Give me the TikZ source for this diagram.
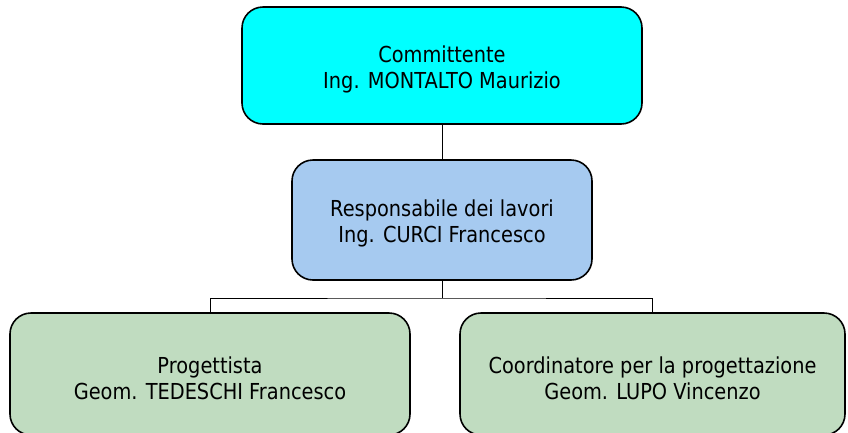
\documentclass[tikz,border=0pt]{standalone}
\usepackage{fontspec}
\setmainfont[FakeStretch=0.88]{DejaVu Sans}
\definecolor{topc}{HTML}{00FFFF}
\definecolor{midc}{HTML}{A6CAF0}
\definecolor{lowc}{HTML}{C0DCC0}
\begin{document}
\begin{tikzpicture}[x=1pt,y=-1pt,
  box/.style={draw=black, line width=1.6pt, rounded corners=21pt, inner sep=0pt},
  txt/.style={align=center, font=\fontsize{22}{26}\selectfont, inner sep=0pt},
  link/.style={draw=black, line width=1pt}]
\useasboundingbox (0,0) rectangle (848,432);
\begin{scope}
\clip (0,0) rectangle (848,432);
\node[box, fill=topc, minimum width=400pt, minimum height=117pt] (top) at (442,65.5) {};
\node[box, fill=midc, minimum width=300pt, minimum height=120pt] (mid) at (442,220) {};
\node[box, fill=lowc, minimum width=400pt, minimum height=122pt] (left) at (210,374) {};
\node[box, fill=lowc, minimum width=385pt, minimum height=122pt] (right) at (652.5,374) {};
\end{scope}
\node[txt] (toptxt) at ([yshift=-4pt]top.center) {Committente\\Ing. MONTALTO Maurizio};
\node[txt] (midtxt) at ([yshift=-3.5pt]mid.center) {Responsabile dei lavori\\Ing. CURCI Francesco};
\node[txt] (lefttxt) at ([yshift=-4pt]left.center) {Progettista\\Geom. TEDESCHI Francesco};
\node[txt] (righttxt) at ([yshift=-4pt]right.center) {Coordinatore per la progettazione\\Geom. LUPO Vincenzo};
\coordinate (bus) at (442,298);
\draw[link] (top.south) -- (mid.north);
\draw[link] (mid.south) -- (bus);
\draw[link] (left.north) |- (bus) -| (right.north);
\end{tikzpicture}
\end{document}
